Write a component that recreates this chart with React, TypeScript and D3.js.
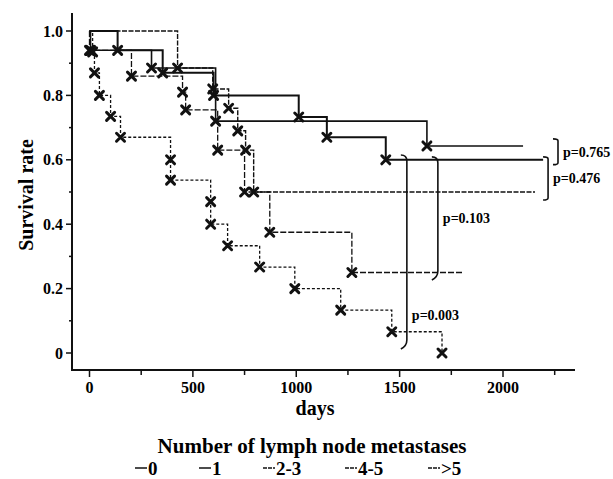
import React, { useEffect, useRef } from "react";
import * as d3 from "d3";

const width = 613;
const height = 479;

const groups = ["0", "1", "2-3", "4-5", ">5"];

// event days and survival after each event
const days0 = [5, 300, 610, 1632];
const surv0 = [0.94, 0.885, 0.72, 0.643];
const days1 = [136, 354, 600, 1012, 1148, 1433];
const surv1 = [0.94, 0.87, 0.8, 0.733, 0.67, 0.6];
const days23 = [426, 596, 673, 717, 755, 794];
const surv23 = [0.885, 0.82, 0.76, 0.69, 0.63, 0.5];
const days45 = [0, 203, 450, 465, 620, 750, 872, 1269];
const surv45 = [0.94, 0.86, 0.81, 0.755, 0.63, 0.5, 0.375, 0.25];
const days5 = [15, 24, 48, 102, 150, 392, 392, 586, 586, 668, 823, 993, 1215, 1462, 1705];
const surv5 = [0.935, 0.87, 0.8, 0.735, 0.67, 0.6, 0.537, 0.47, 0.4, 0.333, 0.267, 0.2, 0.133, 0.066, 0];
const lastDay = [2097, 2194, 2155, 1811, 1705];

const yTicks = [0, 0.2, 0.4, 0.6, 0.8, 1.0];
const yTickLabels = ["0", "0.2", "0.4", "0.6", "0.8", "1.0"];
const xTicks = [0, 500, 1000, 1500, 2000];

// log-rank brackets
const pLabels = ["p=0.765", "p=0.476", "p=0.103", "p=0.003"];
const pDay = [2266, 2218, 1685, 1535];
const pTop = [0.665, 0.609, 0.609, 0.615];
const pBottom = [0.585, 0.475, 0.236, 0.022];
const pLabelAt = [0.625, 0.542, 0.42, 0.118];

const font = "'Liberation Serif', 'Times New Roman', serif";
const dashes = ["none", "none", "5,1.5", "6,2", "3,2"];
const widths = [1.6, 2, 1.4, 1.3, 1.3];
const legendX = [135, 199, 263, 345, 428];

export default function App() {
  const ref = useRef<SVGSVGElement>(null);

  useEffect(() => {
    const svg = d3.select(ref.current);
    svg.selectAll("*").remove();

    const x = d3.scaleLinear().domain([0, 2000]).range([89.5, 503]);
    const y = d3.scaleLinear().domain([0, 1]).range([353, 31]);

    svg.append("rect").attr("width", width).attr("height", height).attr("fill", "#fff");

    // axes
    const axisX = 72;
    const axisY = 370;
    svg.append("line").attr("x1", axisX).attr("x2", axisX).attr("y1", 13).attr("y2", axisY)
      .attr("stroke", "#111").attr("stroke-width", 2);
    svg.append("line").attr("x1", axisX - 1).attr("x2", 575).attr("y1", axisY).attr("y2", axisY)
      .attr("stroke", "#111").attr("stroke-width", 2.2);

    yTicks.forEach((v, i) => {
      svg.append("line").attr("x1", axisX - 6).attr("x2", axisX).attr("y1", y(v)).attr("y2", y(v))
        .attr("stroke", "#111").attr("stroke-width", 1.5);
      svg.append("text").attr("x", 63).attr("y", y(v)).attr("dy", "0.35em")
        .attr("text-anchor", "end").attr("font-family", font).attr("font-weight", "bold")
        .attr("font-size", 16).text(yTickLabels[i]);
    });
    d3.range(0.1, 1.0, 0.2).forEach((v) => {
      svg.append("line").attr("x1", axisX - 3).attr("x2", axisX).attr("y1", y(v)).attr("y2", y(v))
        .attr("stroke", "#111").attr("stroke-width", 1.5);
    });
    xTicks.forEach((d) => {
      svg.append("line").attr("x1", x(d)).attr("x2", x(d)).attr("y1", axisY).attr("y2", axisY + 7)
        .attr("stroke", "#111").attr("stroke-width", 1.5);
      svg.append("text").attr("x", x(d)).attr("y", 393).attr("text-anchor", "middle")
        .attr("font-family", font).attr("font-weight", "bold").attr("font-size", 16).text(d);
    });
    d3.range(250, 2500, 500).forEach((d) => {
      svg.append("line").attr("x1", x(d)).attr("x2", x(d)).attr("y1", axisY).attr("y2", axisY + 5)
        .attr("stroke", "#111").attr("stroke-width", 1.5);
    });

    // survival curves
    const allDays = [days0, days1, days23, days45, days5];
    const allSurv = [surv0, surv1, surv23, surv45, surv5];
    const line = d3.line<[number, number]>()
      .x((p) => x(p[0]))
      .y((p) => y(p[1]))
      .curve(d3.curveStepAfter);

    groups.forEach((g, i) => {
      const pts: [number, number][] = [[0, 1]];
      allDays[i].forEach((d, j) => pts.push([d, allSurv[i][j]]));
      pts.push([lastDay[i], allSurv[i][allSurv[i].length - 1]]);
      svg.append("path").attr("d", line(pts)).attr("fill", "none").attr("stroke", "#111")
        .attr("stroke-width", widths[i]).attr("stroke-dasharray", dashes[i]);
    });

    groups.forEach((g, i) => {
      svg.append("g").selectAll("path")
        .data(allDays[i].map((d, j) => [d, allSurv[i][j]]))
        .join("path")
        .attr("transform", (p) => `translate(${x(p[0])},${y(p[1])})`)
        .attr("d", "M-4,-4L4,4M-4,4L4,-4")
        .attr("stroke", "#111").attr("stroke-width", 3).attr("stroke-linecap", "round");
    });

    // brackets with p-values
    pLabels.forEach((lab, i) => {
      const bx = x(pDay[i]);
      const t = y(pTop[i]);
      const b = y(pBottom[i]);
      const round = i >= 2;
      const h = round ? 6 : 5;
      const c = round ? 6 : 2;
      const d = `M${bx - h},${t} Q${bx},${t} ${bx},${t + c} L${bx},${b - c} Q${bx},${b} ${bx - h},${b + (round ? 3 : 0)}`;
      svg.append("path").attr("d", d).attr("fill", "none").attr("stroke", "#111").attr("stroke-width", 1.6);
      svg.append("text").attr("x", bx + 5).attr("y", y(pLabelAt[i])).attr("dy", "0.35em")
        .attr("font-family", font).attr("font-weight", "bold").attr("font-size", 14).text(lab);
    });

    // titles
    svg.append("text").attr("transform", "translate(33,195) rotate(-90)").attr("text-anchor", "middle")
      .attr("font-family", font).attr("font-weight", "bold").attr("font-size", 20).text("Survival rate");
    svg.append("text").attr("x", 315).attr("y", 415).attr("text-anchor", "middle")
      .attr("font-family", font).attr("font-weight", "bold").attr("font-size", 20).text("days");
    svg.append("text").attr("x", 312).attr("y", 453).attr("text-anchor", "middle")
      .attr("font-family", font).attr("font-weight", "bold").attr("font-size", 21)
      .text("Number of lymph node metastases");

    // legend
    groups.forEach((g, i) => {
      const lx = legendX[i];
      svg.append("line").attr("x1", lx).attr("x2", lx + 12).attr("y1", 468).attr("y2", 468)
        .attr("stroke", "#111").attr("stroke-width", 1.5)
        .attr("stroke-dasharray", dashes[i] === "none" ? "none" : "4,1");
      svg.append("text").attr("x", lx + 13).attr("y", 475).attr("font-family", font)
        .attr("font-weight", "bold").attr("font-size", 19).text(g);
    });
  }, []);

  return (
    <div style={{ position: "absolute", left: 0, top: 0 }}>
      <svg ref={ref} width={width} height={height} style={{ display: "block" }} />
    </div>
  );
}
